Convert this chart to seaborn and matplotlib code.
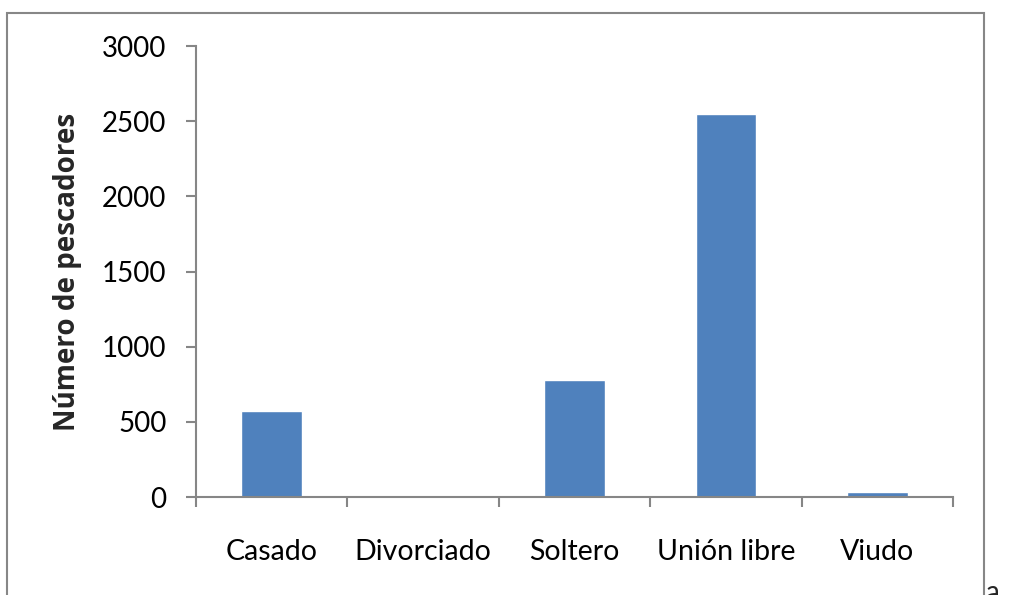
import matplotlib
matplotlib.use("Agg")
import matplotlib.pyplot as plt
import seaborn as sns
import pandas as pd
from matplotlib.patches import Rectangle
from matplotlib.ticker import FixedLocator

# data
estado_civil = ["Casado", "Divorciado", "Soltero", "Unión libre", "Viudo"]
pescadores = [573, 1, 775, 2545, 30]
yticks = [0, 500, 1000, 1500, 2000, 2500, 3000]

df = pd.DataFrame({"estado": estado_civil, "n": pescadores})

sns.set_style("white")
plt.rcParams["font.family"] = ["Lato", "DejaVu Sans"]

gray = "#868686"
fig = plt.figure(figsize=(10.10, 5.95), dpi=100)
ax = fig.add_axes([196 / 1010, 1 - 497 / 595, (953 - 196) / 1010, (497 - 46) / 595])

sns.barplot(data=df, x="estado", y="n", color="#4F81BD", saturation=1,
            width=0.4, ax=ax)

ax.set_xlim(-0.5, 4.5)
ax.set_ylim(0, 3000)
ax.set_yticks(yticks)
ax.set_yticklabels([str(v) for v in yticks])
ax.xaxis.set_minor_locator(FixedLocator([i - 0.5 for i in range(len(estado_civil) + 1)]))

for s in ["top", "right"]:
    ax.spines[s].set_visible(False)
for s in ["left", "bottom"]:
    ax.spines[s].set_color(gray)
    ax.spines[s].set_linewidth(1.5)

ax.tick_params(axis="y", which="major", direction="out", length=7.2, width=1.5,
               color=gray, left=True, pad=14, labelsize=20, labelcolor="black")
ax.tick_params(axis="x", which="major", length=0, pad=30, labelsize=20.5,
               labelcolor="black")
ax.tick_params(axis="x", which="minor", direction="out", length=7.2, width=1.5,
               color=gray, bottom=True)

ax.set_xlabel("")
ax.set_ylabel("Número de pescadores", fontsize=20, fontweight="bold",
              family=["Open Sans", "DejaVu Sans"])
ax.yaxis.set_label_coords((82 - 196) / 757, 0.5)

# chart frame
fig.patches.append(Rectangle((7 / 1010, -0.02), (984 - 7) / 1010, (595 - 13) / 595 + 0.02,
                             transform=fig.transFigure, fill=False,
                             edgecolor="#878787", linewidth=1.5))
fig.text(985 / 1010, -6 / 595, "a", fontsize=20, va="baseline", ha="left")

fig.savefig("out.png", dpi=100)
